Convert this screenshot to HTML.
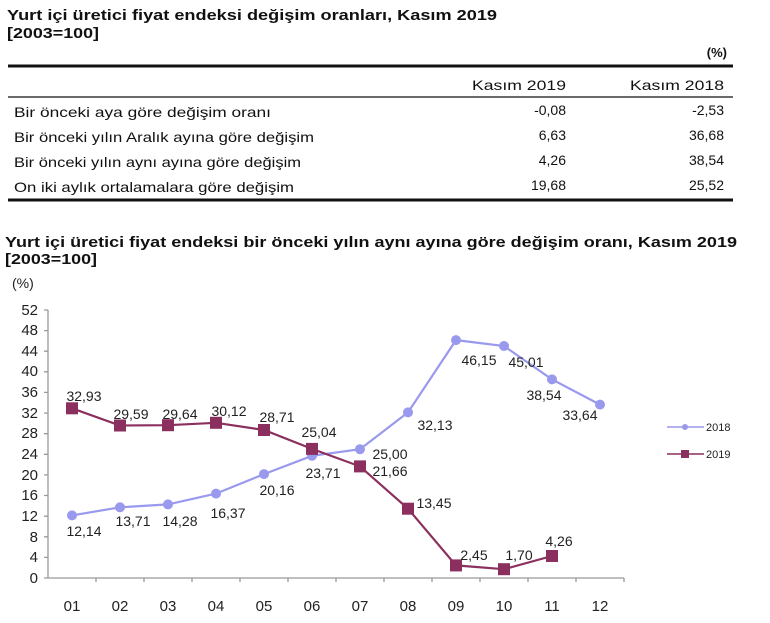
<!DOCTYPE html>
<html><head><meta charset="utf-8"><style>
html,body{margin:0;padding:0;background:#fff;}
svg{display:block;}
</style></head><body>
<svg width="770" height="623" viewBox="0 0 770 623" xmlns="http://www.w3.org/2000/svg" font-family="Liberation Sans, Arial, sans-serif">
<!-- Top table -->
<g fill="#111">
<text x="7" y="20" font-size="15" font-weight="bold" textLength="490" lengthAdjust="spacingAndGlyphs">Yurt içi üretici fiyat endeksi değişim oranları, Kasım 2019</text>
<text x="7" y="38" font-size="15" font-weight="bold" textLength="92" lengthAdjust="spacingAndGlyphs">[2003=100]</text>
<text x="727" y="57" font-size="13" font-weight="bold" text-anchor="end">(%)</text>
</g>
<line x1="8" y1="66" x2="733" y2="66" stroke="#111" stroke-width="3"/>
<line x1="8" y1="97" x2="733" y2="97" stroke="#111" stroke-width="1.3"/>
<line x1="8" y1="200" x2="733" y2="200" stroke="#111" stroke-width="3"/>
<g font-size="14" fill="#111">
<text x="566" y="90" text-anchor="end" textLength="94" lengthAdjust="spacingAndGlyphs">Kasım 2019</text>
<text x="724" y="90" text-anchor="end" textLength="94" lengthAdjust="spacingAndGlyphs">Kasım 2018</text>
<text x="14" y="117" textLength="257" lengthAdjust="spacingAndGlyphs">Bir önceki aya göre değişim oranı</text>
<text x="14" y="142" textLength="300" lengthAdjust="spacingAndGlyphs">Bir önceki yılın Aralık ayına göre değişim</text>
<text x="14" y="167" textLength="287" lengthAdjust="spacingAndGlyphs">Bir önceki yılın aynı ayına göre değişim</text>
<text x="14" y="192" textLength="280" lengthAdjust="spacingAndGlyphs">On iki aylık ortalamalara göre değişim</text>
<text x="566" y="115" text-anchor="end">-0,08</text>
<text x="724" y="115" text-anchor="end">-2,53</text>
<text x="566" y="140" text-anchor="end">6,63</text>
<text x="724" y="140" text-anchor="end">36,68</text>
<text x="566" y="165" text-anchor="end">4,26</text>
<text x="724" y="165" text-anchor="end">38,54</text>
<text x="566" y="190" text-anchor="end">19,68</text>
<text x="724" y="190" text-anchor="end">25,52</text>
</g>
<g fill="#111" font-weight="bold" font-size="15">
<text x="5" y="247" textLength="732" lengthAdjust="spacingAndGlyphs">Yurt içi üretici fiyat endeksi bir önceki yılın aynı ayına göre değişim oranı, Kasım 2019</text>
<text x="5" y="264" textLength="92" lengthAdjust="spacingAndGlyphs">[2003=100]</text>
</g>
<!-- Chart -->
<text x="12" y="288" font-size="14" fill="#222">(%)</text>
<g font-size="15" fill="#222" text-anchor="end">
<text x="38" y="583">0</text><text x="38" y="562">4</text><text x="38" y="542">8</text>
<text x="38" y="521">12</text><text x="38" y="500">16</text><text x="38" y="480">20</text>
<text x="38" y="459">24</text><text x="38" y="438">28</text><text x="38" y="418">32</text>
<text x="38" y="397">36</text><text x="38" y="376">40</text><text x="38" y="356">44</text>
<text x="38" y="335">48</text><text x="38" y="315">52</text>
</g>
<g stroke="#999" stroke-width="1.3">
<line x1="48" y1="310" x2="48" y2="578"/>
<line x1="48" y1="578" x2="624" y2="578"/>
<path d="M44 578H48M44 557.4H48M44 536.8H48M44 516.2H48M44 495.5H48M44 474.9H48M44 454.3H48M44 433.7H48M44 413.1H48M44 392.4H48M44 371.8H48M44 351.2H48M44 330.6H48M44 310H48"/>
<path d="M96 578V582M144 578V582M192 578V582M240 578V582M288 578V582M336 578V582M384 578V582M432 578V582M480 578V582M528 578V582M576 578V582M624 578V582"/>
</g>
<g font-size="15" fill="#222" text-anchor="middle">
<text x="72" y="611">01</text><text x="120" y="611">02</text><text x="168" y="611">03</text>
<text x="216" y="611">04</text><text x="264" y="611">05</text><text x="312" y="611">06</text>
<text x="360" y="611">07</text><text x="408" y="611">08</text><text x="456" y="611">09</text>
<text x="504" y="611">10</text><text x="552" y="611">11</text><text x="600" y="611">12</text>
</g>
<!-- 2018 -->
<polyline fill="none" stroke="#9999EE" stroke-width="2.2" points="72,515.4 120,507.3 168,504.4 216,493.6 264,474.1 312,455.8 360,449.2 408,412.4 456,340.1 504,346 552,379.4 600,404.6"/>
<g fill="#9999EE">
<circle cx="72" cy="515.4" r="5"/><circle cx="120" cy="507.3" r="5"/><circle cx="168" cy="504.4" r="5"/>
<circle cx="216" cy="493.6" r="5"/><circle cx="264" cy="474.1" r="5"/><circle cx="312" cy="455.8" r="5"/>
<circle cx="360" cy="449.2" r="5"/><circle cx="408" cy="412.4" r="5"/><circle cx="456" cy="340.1" r="5"/>
<circle cx="504" cy="346" r="5"/><circle cx="552" cy="379.4" r="5"/><circle cx="600" cy="404.6" r="5"/>
</g>
<!-- 2019 -->
<polyline fill="none" stroke="#8B2F5E" stroke-width="2.2" points="72,408.3 120,425.5 168,425.2 216,422.8 264,430 312,448.9 360,466.4 408,508.7 456,565.4 504,569.2 552,556"/>
<g fill="#8B2F5E">
<rect x="66" y="402.3" width="12" height="12"/><rect x="114" y="419.5" width="12" height="12"/>
<rect x="162" y="419.2" width="12" height="12"/><rect x="210" y="416.8" width="12" height="12"/>
<rect x="258" y="424" width="12" height="12"/><rect x="306" y="442.9" width="12" height="12"/>
<rect x="354" y="460.4" width="12" height="12"/><rect x="402" y="502.7" width="12" height="12"/>
<rect x="450" y="559.4" width="12" height="12"/><rect x="498" y="563.2" width="12" height="12"/>
<rect x="546" y="550" width="12" height="12"/>
</g>
<!-- labels -->
<g font-size="14" fill="#222" text-anchor="middle">
<text x="84" y="536">12,14</text><text x="133" y="526">13,71</text><text x="180" y="526">14,28</text>
<text x="228" y="518">16,37</text><text x="277" y="495">20,16</text><text x="323" y="478">23,71</text>
<text x="390" y="459">25,00</text><text x="435" y="430">32,13</text><text x="479" y="365">46,15</text>
<text x="526" y="367">45,01</text><text x="544" y="400">38,54</text><text x="580" y="420">33,64</text>
<text x="84" y="401">32,93</text><text x="131" y="419">29,59</text><text x="180" y="419">29,64</text>
<text x="229" y="416">30,12</text><text x="277" y="422">28,71</text><text x="319" y="437">25,04</text>
<text x="390" y="476">21,66</text><text x="434" y="508">13,45</text><text x="474" y="560">2,45</text>
<text x="519" y="560">1,70</text><text x="559" y="546">4,26</text>
</g>
<!-- legend -->
<line x1="667" y1="427" x2="704" y2="427" stroke="#9999EE" stroke-width="1.5"/>
<circle cx="685" cy="427" r="3" fill="#9999EE"/>
<text x="706" y="431" font-size="11" fill="#222">2018</text>
<line x1="667" y1="454" x2="704" y2="454" stroke="#8B2F5E" stroke-width="1.5"/>
<rect x="681" y="450" width="8" height="8" fill="#8B2F5E"/>
<text x="706" y="458" font-size="11" fill="#222">2019</text>
</svg>
</body></html>
